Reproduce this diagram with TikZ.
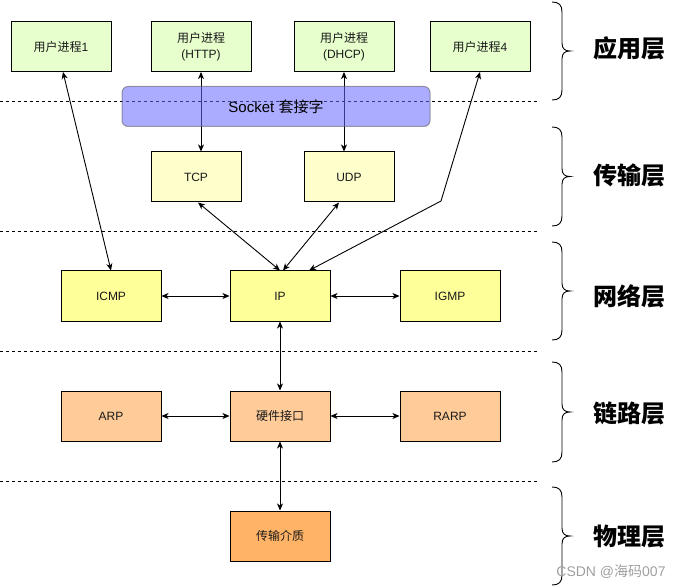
\documentclass[tikz,border=0pt]{standalone}
\usepackage{fontspec}
\setmainfont{Liberation Sans}
\newfontfamily\cjk{Noto Sans CJK SC}
\usetikzlibrary{arrows.meta}
\definecolor{appc}{HTML}{E6FFCC}
\definecolor{tranc}{HTML}{FFFFCC}
\definecolor{netc}{HTML}{FFFF99}
\definecolor{linkc}{HTML}{FFCC99}
\definecolor{physc}{HTML}{FFB366}
\definecolor{sockc}{HTML}{6666FF}
\definecolor{sockb}{HTML}{666666}
\definecolor{wmark}{HTML}{A0A0A0}
\newcommand{\mybrace}[2]{%
  \draw[bracestyle] (552,#1) .. controls (559,#1) and (562,{#1+3}) .. (562,{#1+10})
    -- (562,{(#1+#2)/2-8}) .. controls (562,{(#1+#2)/2-2}) and (565,{(#1+#2)/2}) .. (570,{(#1+#2)/2})
    .. controls (565,{(#1+#2)/2}) and (562,{(#1+#2)/2+2}) .. (562,{(#1+#2)/2+8})
    -- (562,{#2-10}) .. controls (562,{#2-3}) and (559,#2) .. (552,#2);}
\begin{document}
\begin{tikzpicture}[x=1pt,y=-1pt,
  box/.style={draw=black,line width=1pt,minimum width=100pt,minimum height=50pt,
    inner sep=0pt,font=\fontsize{12}{16}\selectfont,align=center,text=black!90},
  narrow/.style={box,minimum width=90pt},
  tip/.style={Stealth[length=7pt,width=6pt,inset=2pt]},
  conn/.style={line width=0.9pt,{Stealth[length=7pt,width=6pt,inset=2pt]}-{Stealth[length=7pt,width=6pt,inset=2pt]}},
  sepline/.style={line width=0.9pt,dash pattern=on 3pt off 3pt},
  bracestyle/.style={line width=0.9pt},
  layer/.style={font=\fontsize{24}{28}\cjk\bfseries\selectfont,inner sep=0pt}]
\useasboundingbox (0,0) rectangle (683,588);
\fill[white] (0,0) rectangle (683,588);

% separators
\foreach \yy in {101,231,351,481} \draw[sepline] (0,\yy) -- (539,\yy);

% application layer
\node[box,fill=appc] (a1) at (61,46.5) {{\cjk 用户进程}1};
\node[box,fill=appc] (a2) at (201,46.5) {{\cjk 用户进程}\\(HTTP)};
\node[box,fill=appc] (a3) at (344,46.5) {{\cjk 用户进程}\\(DHCP)};
\node[box,fill=appc] (a4) at (480,46.5) {{\cjk 用户进程}4};

% transport
\node[narrow,fill=tranc] (tcp) at (196,177) {TCP};
\node[narrow,fill=tranc] (udp) at (349,177) {UDP};

% network
\node[box,fill=netc] (icmp) at (111,296) {ICMP};
\node[box,fill=netc] (ip) at (280,296) {IP};
\node[box,fill=netc] (igmp) at (450,296) {IGMP};

% link
\node[box,fill=linkc] (arp) at (111,416) {ARP};
\node[box,fill=linkc] (hw) at (280,416) {\cjk 硬件接口};
\node[box,fill=linkc] (rarp) at (450,416) {RARP};

% physical
\node[box,fill=physc] (med) at (280,536) {\cjk 传输介质};

\coordinate (bend4) at (441,201);

% connectors
\draw[conn] ([xshift=2pt]a1.south) -- (icmp.north);
\draw[conn] (a2.south) -- (a2.south |- tcp.north);
\draw[conn] (a3.south) -- (a3.south |- udp.north);
\draw[line width=0.9pt,{Stealth[length=7pt,width=6pt,inset=2pt]}-{Stealth[length=7pt,width=6pt,inset=2pt]}] (a4.south) -- (bend4) -- ([xshift=29pt]ip.north);
\draw[conn] ([xshift=2pt]tcp.south) -- (ip.north);
\draw[conn] ([xshift=-10pt]udp.south) -- ([xshift=3pt]ip.north);
\draw[conn] (icmp.east) -- (ip.west);
\draw[conn] (ip.east) -- (igmp.west);
\draw[conn] (ip.south) -- (hw.north);
\draw[conn] (arp.east) -- (hw.west);
\draw[conn] (hw.east) -- (rarp.west);
\draw[conn] (hw.south) -- (med.north);

% socket
\node[draw=sockb,draw opacity=0.6,fill=sockc,fill opacity=0.55,rounded corners=6pt,
  line width=1pt,minimum width=308pt,minimum height=40pt,text opacity=1,
  font=\fontsize{15}{18}\selectfont] (sock) at (276,106.5) {Socket {\cjk 套接字}};

% braces and layer labels
\mybrace{2}{100}
\mybrace{127}{226}
\mybrace{242}{340}
\mybrace{362}{462}
\mybrace{487}{585}
\node[layer] (l1) at (629,48) {应用层};
\node[layer] (l2) at (629,175) {传输层};
\node[layer] (l3) at (629,296) {网络层};
\node[layer] (l4) at (629,413) {链路层};
\node[layer] (l5) at (629,537) {物理层};

\node[text=wmark,font=\fontsize{14}{16}\selectfont,inner sep=0pt] (wm) at (611,572) {CSDN @{\cjk 海码}007};
\end{tikzpicture}
\end{document}
